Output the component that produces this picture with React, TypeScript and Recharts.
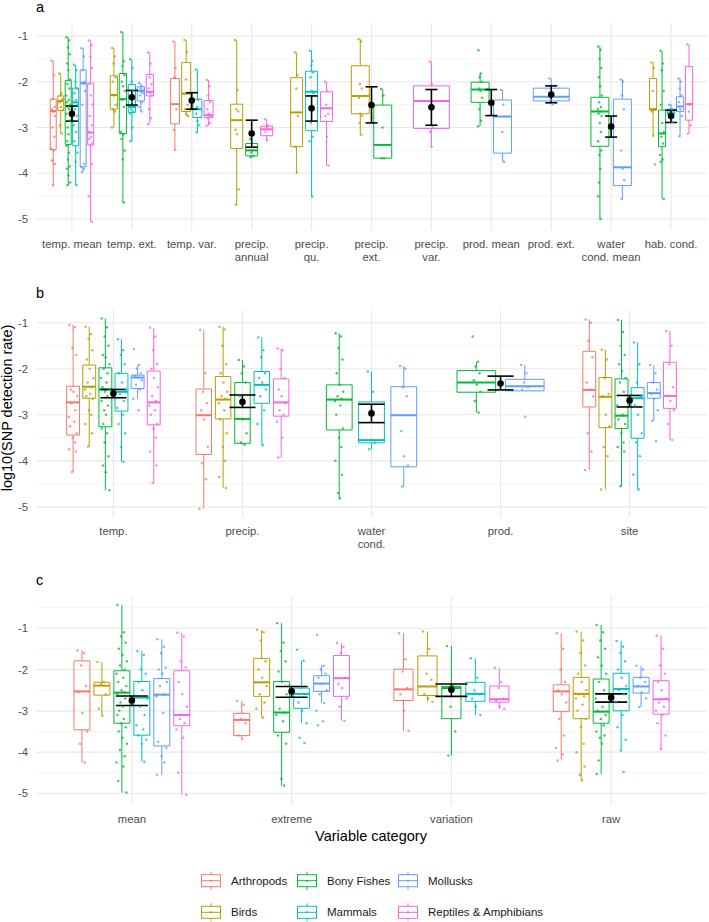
import React from 'react';
import { ComposedChart, XAxis, YAxis, CartesianGrid, Scatter, ErrorBar, ReferenceArea, ReferenceLine } from 'recharts';

const SPECIES = ['Arthropods', 'Birds', 'Bony Fishes', 'Mammals', 'Mollusks', 'Reptiles & Amphibians'];
const COLORS = ['#F8766D', '#B79F00', '#00BA38', '#00BFC4', '#619CFF', '#F564E3'];
const FONT = '"Liberation Sans", Arial, Helvetica, sans-serif';

// ---- panel a: single environmental variables ----
const catsA = ['temp. mean', 'temp. ext.', 'temp. var.', 'precip.\nannual', 'precip.\nqu.', 'precip.\next.', 'precip.\nvar.', 'prod. mean', 'prod. ext.', 'water\ncond. mean', 'hab. cond.'];
// [category, species, lower whisker, q1, median, q3, upper whisker]
const boxesA = [
  [0, 0, -4.26, -3.48, -2.64, -2.38, -1.54],
  [0, 1, -3.13, -2.63, -2.42, -2.31, -1.82],
  [0, 2, -4.26, -3.37, -2.53, -1.97, -1.03],
  [0, 3, -4.26, -3.40, -2.45, -2.14, -1.63],
  [0, 4, -3.97, -3.86, -2.03, -1.74, -1.27],
  [0, 5, -5.06, -3.38, -3.11, -2.03, -1.10],
  [1, 1, -3.00, -2.60, -2.29, -1.87, -1.26],
  [1, 2, -4.64, -3.13, -2.38, -1.82, -0.91],
  [1, 3, -3.30, -2.67, -2.55, -2.06, -1.51],
  [1, 4, -2.65, -2.42, -2.20, -2.11, -2.03],
  [1, 5, -2.93, -2.31, -2.22, -1.84, -1.36],
  [2, 0, -3.49, -2.92, -2.49, -1.93, -1.12],
  [2, 1, -2.75, -2.65, -2.26, -1.58, -1.09],
  [2, 3, -3.11, -2.78, -2.60, -2.38, -1.73],
  [2, 5, -2.96, -2.78, -2.73, -2.41, -1.96],
  [3, 1, -4.69, -3.46, -2.84, -2.49, -1.09],
  [3, 2, -3.65, -3.62, -3.50, -3.35, -3.25],
  [3, 5, -3.28, -3.18, -3.04, -2.97, -2.82],
  [4, 1, -3.99, -3.42, -2.67, -1.91, -1.36],
  [4, 3, -4.51, -3.07, -2.22, -1.77, -1.32],
  [4, 5, -3.83, -2.87, -2.58, -2.22, -2.00],
  [5, 1, -3.16, -2.70, -2.31, -1.65, -1.07],
  [5, 2, -3.67, -3.67, -3.38, -2.51, -2.16],
  [6, 5, -3.42, -3.02, -2.42, -2.09, -1.56],
  [7, 2, -2.97, -2.45, -2.17, -2.01, -1.82],
  [7, 4, -3.75, -3.56, -2.76, -2.40, -2.18],
  [8, 4, -2.49, -2.42, -2.33, -2.14, -1.93],
  [9, 2, -5.00, -3.41, -2.65, -2.34, -1.23],
  [9, 4, -4.56, -4.27, -3.87, -2.38, -1.95],
  [10, 1, -3.18, -2.62, -2.60, -1.93, -1.58],
  [10, 2, -4.56, -3.42, -3.13, -2.62, -1.32],
  [10, 3, -2.88, -2.72, -2.67, -2.60, -2.50],
  [10, 4, -3.19, -2.65, -2.54, -2.33, -1.93],
  [10, 5, -3.13, -2.84, -2.49, -1.67, -1.18],
];
const pointsA = [
  [-1.54, -1.86, -2.38, -2.55, -2.6, -2.66, -2.75, -3.0, -3.2, -3.46, -3.5, -3.72, -3.8, -4.26],
  [-1.82, -2.25, -2.3, -2.38, -2.45, -2.55, -2.62, -2.95, -3.13],
  [-1.03, -1.1, -1.25, -1.4, -1.6, -1.75, -1.95, -2.05, -2.15, -2.3, -2.4, -2.45, -2.5, -2.55, -2.6, -2.7, -2.85, -3.0, -3.15, -3.3, -3.4, -3.55, -3.7, -3.85, -3.9, -4.05, -4.2, -4.26],
  [-1.63, -1.75, -2.0, -2.15, -2.25, -2.4, -2.5, -2.6, -2.75, -2.95, -3.1, -3.3, -3.55, -3.75, -4.26],
  [-1.27, -1.45, -1.75, -2.0, -2.03, -2.05, -2.2, -2.5, -3.8, -3.86, -3.9, -3.97],
  [-1.1, -1.2, -1.45, -1.7, -2.05, -2.3, -2.5, -2.75, -2.95, -3.1, -3.2, -3.25, -3.35, -3.4, -3.8, -4.5, -5.06],
  [-1.26, -1.45, -1.6, -1.9, -2.0, -2.3, -2.5, -2.6, -2.65, -3.0],
  [-0.91, -1.55, -1.65, -1.85, -2.0, -2.1, -2.2, -2.4, -2.55, -3.1, -3.15, -3.25, -3.5, -3.7, -4.64],
  [-1.51, -1.7, -2.0, -2.2, -2.35, -2.45, -2.55, -2.6, -2.65, -2.7, -3.0, -3.3],
  [-2.03, -2.1, -2.15, -2.18, -2.2, -2.22, -2.25, -2.3, -2.45, -2.55, -2.65],
  [-1.36, -1.6, -1.9, -2.05, -2.15, -2.25, -2.3, -2.6, -2.8, -2.93],
  [-1.12, -1.7, -1.9, -2.6, -3.05, -3.49],
  [-1.09, -1.35, -1.95, -2.5, -2.6, -2.7, -2.75],
  [-1.73, -2.4, -2.55, -2.6, -2.7, -2.85, -2.95, -3.11],
  [-1.96, -2.1, -2.3, -2.45, -2.6, -2.7, -2.75, -2.8, -2.9, -2.96],
  [-1.09, -2.18, -2.6, -2.65, -3.05, -3.15, -4.35, -4.69],
  [-3.25, -3.5, -3.55, -3.62, -3.65],
  [-2.82, -2.95, -3.0, -3.05, -3.1, -3.28],
  [-1.36, -1.85, -2.15, -2.75, -3.42, -3.99],
  [-1.32, -1.55, -1.65, -1.8, -1.9, -2.2, -2.25, -2.9, -3.2, -3.3, -4.51],
  [-2.0, -2.2, -2.5, -2.7, -2.75, -3.2, -3.83],
  [-1.07, -1.12, -2.05, -2.15, -2.35, -2.7, -2.75, -2.9, -3.16],
  [-2.16, -2.3, -3.0, -3.67, -3.67],
  [-1.56, -2.05, -2.55, -3.0, -3.1, -3.42],
  [-1.31, -1.82, -1.9, -2.0, -2.15, -2.2, -2.35, -2.6, -2.85, -2.97],
  [-2.18, -2.5, -3.1, -3.75],
  [-1.93, -2.3, -2.4, -2.49],
  [-1.23, -1.3, -1.5, -1.7, -1.9, -2.1, -2.3, -2.45, -2.55, -2.6, -2.65, -2.7, -2.75, -2.9, -3.1, -3.3, -3.5, -3.6, -3.9, -4.2, -4.5, -5.0],
  [-1.95, -2.0, -2.3, -2.6, -3.5, -3.9, -4.15, -4.56],
  [-1.58, -1.7, -2.2, -2.6, -2.65, -3.18, -3.81],
  [-1.32, -1.6, -1.75, -2.2, -2.5, -2.9, -3.1, -3.2, -3.35, -3.6, -3.7, -3.75, -4.56],
  [-2.5, -2.6, -2.7, -2.88],
  [-1.93, -2.0, -2.15, -2.3, -2.45, -2.6, -2.75, -3.19],
  [-1.18, -2.5, -2.65, -2.95, -3.13],
];
// [category, mean, lower, upper]
const meansA = [
  [0, -2.70, -2.86, -2.53], [1, -2.34, -2.51, -2.19], [2, -2.41, -2.60, -2.24], [3, -3.13, -3.43, -2.84],
  [4, -2.58, -2.86, -2.31], [5, -2.51, -2.90, -2.11], [6, -2.56, -2.95, -2.17], [7, -2.46, -2.74, -2.17],
  [8, -2.28, -2.46, -2.09], [9, -2.98, -3.21, -2.75], [10, -2.75, -2.89, -2.62],
];

// ---- panel b: variable groups ----
const catsB = ['temp.', 'precip.', 'water\ncond.', 'prod.', 'site'];
const boxesB = [
  [0, 0, -4.24, -3.44, -2.73, -2.38, -1.05],
  [0, 1, -3.69, -2.64, -2.39, -1.92, -1.09],
  [0, 2, -4.64, -3.26, -2.45, -1.98, -0.91],
  [0, 3, -4.02, -2.92, -2.50, -2.10, -1.36],
  [0, 4, -2.65, -2.43, -2.19, -2.14, -1.92],
  [0, 5, -4.48, -3.22, -2.73, -2.05, -1.11],
  [1, 0, -5.04, -3.86, -3.01, -2.44, -1.16],
  [1, 1, -4.59, -3.09, -2.67, -2.17, -1.09],
  [1, 2, -3.65, -3.62, -3.09, -2.30, -1.81],
  [1, 3, -3.66, -2.75, -2.35, -2.06, -1.32],
  [1, 5, -3.93, -3.03, -2.73, -2.22, -1.56],
  [2, 2, -4.82, -3.33, -2.67, -2.35, -1.23],
  [2, 3, -3.75, -3.61, -3.55, -2.72, -2.06],
  [2, 4, -4.56, -4.13, -3.01, -2.39, -1.94],
  [3, 2, -2.95, -2.51, -2.30, -2.04, -1.85],
  [3, 4, -2.48, -2.48, -2.38, -2.23, -1.92],
  [4, 0, -4.20, -2.83, -2.46, -1.62, -0.93],
  [4, 1, -4.62, -3.28, -2.61, -2.19, -1.59],
  [4, 2, -4.55, -3.30, -3.02, -2.22, -0.94],
  [4, 3, -4.62, -3.51, -2.64, -2.41, -1.43],
  [4, 4, -3.13, -2.64, -2.53, -2.30, -1.92],
  [4, 5, -3.55, -2.86, -2.59, -1.86, -1.18],
];
const pointsB = [
  [-1.05, -1.1, -1.55, -1.7, -2.45, -2.5, -2.6, -2.75, -2.9, -3.05, -3.15, -3.25, -3.4, -3.5, -3.6, -3.75, -3.8, -4.24],
  [-1.09, -1.25, -1.35, -1.6, -1.8, -2.0, -2.2, -2.3, -2.4, -2.45, -2.55, -2.6, -2.65, -2.9, -3.0, -3.2, -3.4, -3.69],
  [-0.91, -1.1, -1.3, -1.5, -1.7, -1.75, -1.9, -2.0, -2.1, -2.2, -2.3, -2.4, -2.45, -2.5, -2.6, -2.7, -2.8, -2.9, -3.0, -3.2, -3.3, -3.4, -3.6, -3.9, -4.1, -4.25, -4.64],
  [-1.36, -1.6, -1.7, -1.9, -2.1, -2.3, -2.45, -2.55, -2.7, -2.85, -3.0, -3.2, -3.4, -3.7, -4.02],
  [-1.57, -1.92, -2.0, -2.1, -2.15, -2.2, -2.25, -2.35, -2.45, -2.65, -2.9],
  [-1.11, -1.3, -1.6, -1.9, -2.0, -2.2, -2.4, -2.6, -2.7, -2.8, -2.9, -3.0, -3.2, -3.3, -3.5, -3.8, -4.1, -4.48],
  [-1.16, -2.1, -2.5, -2.75, -2.9, -3.1, -3.7, -4.05, -4.4, -5.04],
  [-1.09, -1.15, -1.5, -1.9, -2.1, -2.3, -2.5, -2.6, -2.65, -2.75, -2.9, -3.1, -3.4, -3.7, -4.0, -4.35, -4.59],
  [-1.81, -1.95, -2.1, -2.3, -2.6, -3.1, -3.4, -3.6, -3.65],
  [-1.32, -1.6, -1.75, -2.1, -2.2, -2.3, -2.45, -2.6, -2.9, -3.2, -3.66],
  [-1.56, -1.6, -2.0, -2.2, -2.45, -2.6, -2.75, -2.9, -3.0, -3.15, -3.5, -3.93],
  [-1.23, -1.3, -1.55, -1.8, -2.1, -2.35, -2.5, -2.6, -2.65, -2.7, -2.8, -3.0, -3.3, -3.5, -3.7, -4.0, -4.3, -4.7, -4.82],
  [-2.06, -2.5, -3.55, -3.6, -3.75],
  [-1.94, -2.0, -2.4, -2.6, -3.35, -3.9, -4.1, -4.56],
  [-1.3, -1.85, -1.95, -2.1, -2.25, -2.35, -2.5, -2.7, -2.95],
  [-1.92, -2.1, -2.3, -2.4, -2.45, -3.04],
  [-0.93, -1.0, -1.4, -1.75, -2.3, -2.45, -2.6, -3.4, -3.8, -4.2],
  [-1.59, -1.8, -2.2, -2.55, -2.6, -3.0, -3.25, -3.7, -3.9, -4.62],
  [-0.94, -1.2, -1.5, -1.7, -1.9, -2.05, -2.2, -2.3, -2.5, -2.8, -3.0, -3.1, -3.2, -3.4, -3.6, -3.7, -3.8, -4.55],
  [-1.43, -1.9, -2.3, -2.6, -2.8, -3.0, -3.4, -3.6, -3.9, -4.3, -4.62],
  [-1.92, -2.1, -2.3, -2.45, -2.55, -2.65, -2.9, -3.13, -3.57],
  [-1.18, -1.5, -1.9, -2.4, -2.6, -2.7, -2.9, -3.2, -3.55],
];
const meansB = [
  [0, -2.54, -2.63, -2.45], [1, -2.72, -2.84, -2.57], [2, -2.97, -3.17, -2.77], [3, -2.32, -2.46, -2.16], [4, -2.69, -2.83, -2.58],
];

// ---- panel c: variable categories ----
const catsC = ['mean', 'extreme', 'variation', 'raw'];
const boxesC = [
  [0, 0, -4.25, -3.46, -2.53, -1.79, -1.54],
  [0, 1, -3.12, -2.62, -2.39, -2.31, -1.82],
  [0, 2, -4.98, -3.30, -2.56, -2.03, -0.44],
  [0, 3, -4.23, -3.59, -2.68, -2.29, -1.55],
  [0, 4, -4.55, -3.85, -2.61, -2.22, -1.27],
  [0, 5, -5.03, -3.36, -3.10, -2.03, -1.11],
  [1, 0, -3.68, -3.60, -3.22, -3.06, -2.76],
  [1, 1, -3.16, -2.65, -2.31, -1.73, -1.04],
  [1, 2, -4.81, -3.52, -3.04, -2.29, -0.88],
  [1, 3, -3.30, -2.94, -2.59, -2.45, -1.79],
  [1, 4, -2.81, -2.53, -2.34, -2.15, -1.91],
  [1, 5, -3.24, -2.65, -2.21, -1.66, -1.36],
  [2, 0, -3.48, -2.75, -2.48, -1.99, -1.12],
  [2, 1, -2.78, -2.63, -2.41, -1.67, -1.08],
  [2, 2, -4.08, -3.19, -2.45, -2.41, -1.43],
  [2, 3, -3.10, -2.77, -2.59, -2.31, -1.73],
  [2, 5, -2.95, -2.79, -2.72, -2.40, -1.96],
  [3, 0, -4.20, -3.02, -2.53, -2.37, -1.12],
  [3, 1, -4.68, -3.19, -2.59, -2.19, -1.08],
  [3, 2, -4.53, -3.30, -3.02, -2.23, -0.92],
  [3, 3, -3.96, -3.00, -2.47, -2.09, -1.31],
  [3, 4, -2.91, -2.57, -2.41, -2.19, -1.91],
  [3, 5, -3.93, -3.08, -2.72, -2.27, -1.18],
];
const pointsC = [
  [-1.54, -1.6, -1.9, -2.4, -2.55, -3.05, -3.5, -3.8, -4.25],
  [-1.82, -2.3, -2.35, -2.6, -2.95, -3.12],
  [-0.44, -1.1, -1.2, -1.35, -1.5, -1.65, -1.8, -1.9, -2.0, -2.1, -2.2, -2.3, -2.4, -2.5, -2.55, -2.6, -2.7, -2.8, -2.9, -3.0, -3.1, -3.2, -3.3, -3.4, -3.5, -3.65, -3.8, -3.95, -4.1, -4.25, -4.35, -4.7, -4.98],
  [-1.55, -1.65, -2.0, -2.1, -2.3, -2.5, -2.7, -2.9, -3.1, -3.35, -3.45, -3.6, -3.7, -3.8, -4.23],
  [-1.27, -1.45, -1.6, -1.95, -2.0, -2.1, -2.3, -2.4, -2.6, -2.65, -3.05, -3.75, -3.9, -4.1, -4.25, -4.55],
  [-1.11, -1.2, -1.8, -1.95, -2.3, -2.6, -2.9, -3.2, -3.3, -3.45, -3.65, -4.5, -5.03],
  [-2.76, -2.85, -3.2, -3.3, -3.6, -3.68],
  [-1.04, -1.1, -1.3, -1.8, -2.0, -2.2, -2.4, -2.6, -2.8, -2.95, -3.16],
  [-0.88, -1.35, -1.55, -1.8, -2.05, -2.3, -2.6, -2.95, -3.05, -3.1, -3.25, -3.6, -3.8, -4.65, -4.81],
  [-1.52, -1.79, -2.45, -2.6, -2.8, -3.0, -3.3, -3.65, -3.78],
  [-1.16, -1.91, -2.0, -2.1, -2.2, -2.35, -2.5, -2.6, -2.81, -3.0, -3.25, -3.35],
  [-1.36, -1.45, -1.6, -2.2, -2.35, -2.45, -2.7, -2.9, -3.24],
  [-1.12, -1.75, -2.05, -2.45, -2.6, -3.0, -3.48],
  [-1.08, -1.5, -2.1, -2.25, -2.6, -2.7, -2.78],
  [-1.43, -2.4, -2.9, -3.5, -4.08],
  [-1.73, -2.2, -2.5, -2.6, -2.7, -2.9, -3.1],
  [-1.96, -2.3, -2.45, -2.7, -2.75, -2.9, -2.95],
  [-1.12, -1.5, -2.0, -2.3, -2.5, -2.6, -2.8, -3.2, -3.6, -3.9, -4.05, -4.2],
  [-1.08, -1.3, -1.6, -1.9, -2.1, -2.3, -2.5, -2.6, -2.65, -2.7, -2.85, -3.0, -3.2, -3.4, -3.8, -4.0, -4.35, -4.55, -4.68],
  [-0.92, -1.1, -1.3, -1.5, -1.7, -1.9, -2.1, -2.3, -2.5, -2.7, -2.9, -3.0, -3.1, -3.2, -3.35, -3.5, -3.6, -3.65, -3.8, -4.2, -4.53],
  [-1.31, -1.45, -1.6, -1.8, -2.0, -2.2, -2.4, -2.5, -2.6, -2.8, -3.1, -3.4, -3.7, -3.96, -4.48],
  [-1.91, -2.0, -2.2, -2.3, -2.4, -2.55, -2.7, -2.91],
  [-1.18, -1.5, -1.9, -2.1, -2.3, -2.5, -2.7, -2.8, -2.9, -3.0, -3.1, -3.3, -3.6, -3.93],
];
const meansC = [
  [0, -2.75, -2.87, -2.64], [1, -2.53, -2.67, -2.41], [2, -2.49, -2.65, -2.35], [3, -2.68, -2.79, -2.59],
];

const MAJOR = [-5, -4, -3, -2, -1];
// horizontal jitter pattern (fraction of the jitter width)
const JIT = [-0.8, 0.35, -0.15, 0.7, -0.55, 0.1, 0.9, -0.35, 0.5, -0.95, 0.25, -0.65, 0.8, -0.05, 0.45, -0.85, 0.6, -0.25, 0.15, -0.45];

type Box = { cat: number; sp: number; lo: number; q1: number; med: number; q3: number; hi: number; cx: number; hw: number };

// dodge boxes within each category (0.75 of the category width)
function dodge(rows: number[][]): Box[] {
  return rows.map((r, i) => {
    const same = rows.map((q, j) => [q, j] as [number[], number]).filter(([q]) => q[0] === r[0]).sort((a, b) => a[0][1] - b[0][1]);
    const n = same.length;
    const k = same.findIndex(([, j]) => j === i);
    const slot = 0.75 / n;
    return { cat: r[0], sp: r[1], lo: r[2], q1: r[3], med: r[4], q3: r[5], hi: r[6], cx: r[0] - 0.375 + slot * (k + 0.5), hw: slot * 0.4 };
  });
}

const CatTick = (props: any) => {
  const { x, y, payload, labels } = props;
  const lines = String(labels[payload.value] ?? '').split('\n');
  return (
    <text x={x} y={y + 18} textAnchor="middle" fill="#4d4d4d" fontSize={11.3}>
      {lines.map((l, i) => (
        <tspan key={i} x={x} dy={i === 0 ? 0 : 13}>{l}</tspan>
      ))}
    </text>
  );
};

type PanelProps = {
  cats: string[]; rows: number[][]; pts: number[][]; means: number[][];
  domain: [number, number]; minor: number[]; capW: number; top: number; marginTop: number; plotH: number;
};

function Panel({ cats, rows, pts, means, domain, minor, capW, top, marginTop, plotH }: PanelProps) {
  const boxes = dodge(rows);
  const jw = 0.035;
  const series = SPECIES.map((_, s) =>
    boxes.flatMap((b, i) => (b.sp === s ? pts[i].map((v, j) => ({ x: b.cx + JIT[j % JIT.length] * jw, y: v })) : []))
  );
  const meanData = means.map(([c, m, lo, hi]) => ({ x: c, y: m, err: [m - lo, hi - m] }));
  const ticks = cats.map((_, i) => i);
  return (
    <div style={{ position: 'absolute', left: 0, top }}>
      <ComposedChart width={709} height={marginTop + plotH + 45} margin={{ top: marginTop, right: 2, bottom: 0, left: 0 }}>
        <CartesianGrid horizontalValues={minor} vertical={false} stroke="#ececec" strokeWidth={0.6} />
        <CartesianGrid horizontalValues={MAJOR} verticalValues={ticks} stroke="#e8e8e8" strokeWidth={1.1} />
        <XAxis
          type="number" dataKey="x" domain={[-0.6, cats.length - 0.4]} ticks={ticks} interval={0}
          allowDataOverflow axisLine={false} tickLine={false} tickSize={0} tickMargin={0} height={45}
          tick={(p: any) => <CatTick {...p} labels={cats} />}
        />
        <YAxis
          type="number" dataKey="y" domain={domain} ticks={MAJOR} allowDataOverflow width={36}
          axisLine={false} tickLine={false} tick={{ fill: '#4d4d4d', fontSize: 11.3 }}
        />
        {boxes.flatMap((b, i) => {
          const c = COLORS[b.sp];
          return [
            <ReferenceLine key={`wu${i}`} segment={[{ x: b.cx, y: b.q3 }, { x: b.cx, y: b.hi }]} stroke={c} strokeWidth={1} />,
            <ReferenceLine key={`wl${i}`} segment={[{ x: b.cx, y: b.lo }, { x: b.cx, y: b.q1 }]} stroke={c} strokeWidth={1} />,
            <ReferenceArea key={`bx${i}`} x1={b.cx - b.hw} x2={b.cx + b.hw} y1={b.q1} y2={b.q3} fill="none" fillOpacity={0} stroke={c} strokeWidth={1} />,
            <ReferenceLine key={`md${i}`} segment={[{ x: b.cx - b.hw, y: b.med }, { x: b.cx + b.hw, y: b.med }]} stroke={c} strokeWidth={2} />,
          ];
        })}
        {series.map((d, s) => (
          <Scatter
            key={SPECIES[s]} name={SPECIES[s]} data={d} isAnimationActive={false}
            shape={(p: any) => <circle cx={p.cx} cy={p.cy} r={1.25} fill={COLORS[s]} fillOpacity={0.75} />}
          />
        ))}
        <Scatter
          data={meanData} isAnimationActive={false}
          shape={(p: any) => <circle cx={p.cx} cy={p.cy} r={3.3} fill="#000" />}
        >
          <ErrorBar dataKey="err" direction="y" width={capW} stroke="#000" strokeWidth={1.6} />
        </Scatter>
      </ComposedChart>
    </div>
  );
}

const LegendKey = ({ x, y, color, label }: { x: number; y: number; color: string; label: string }) => (
  <g>
    <line x1={x} x2={x} y1={y - 9} y2={y + 9} stroke={color} strokeWidth={1} />
    <rect x={x - 9.5} y={y - 6} width={19} height={12} fill="#fff" stroke={color} strokeWidth={1} />
    <line x1={x - 9.5} x2={x + 9.5} y1={y} y2={y} stroke={color} strokeWidth={1} />
    <circle cx={x} cy={y} r={1} fill={color} />
    <text x={x + 20} y={y + 4} fontSize={11.5} fill="#1a1a1a">{label}</text>
  </g>
);

export default function App() {
  const legendPos = [[211, 880.7], [211, 912.3], [307, 880.7], [307, 912.3], [408, 880.7], [408, 912.3]];
  return (
    <div style={{ position: 'absolute', left: 0, top: 0, width: 709, height: 922, background: '#fff', fontFamily: FONT, overflow: 'hidden' }}>
      <Panel cats={catsA} rows={boxesA} pts={pointsA} means={meansA} domain={[-5.24, -0.716]} minor={[-4.5, -3.5, -2.5, -1.5]} capW={6} top={0} marginTop={23} plotH={207} />
      <Panel cats={catsB} rows={boxesB} pts={pointsB} means={meansB} domain={[-5.22, -0.724]} minor={[-4.5, -3.5, -2.5, -1.5]} capW={13} top={290} marginTop={20} plotH={207} />
      <Panel cats={catsC} rows={boxesC} pts={pointsC} means={meansC} domain={[-5.28, -0.22]} minor={[-4.5, -3.5, -2.5, -1.5, -0.5]} capW={16} top={575} marginTop={21} plotH={209} />
      <svg width={709} height={922} style={{ position: 'absolute', left: 0, top: 0, pointerEvents: 'none' }}>
        <text x={36} y={12} fontSize={14.5} fill="#000">a</text>
        <text x={36} y={298} fontSize={14.5} fill="#000">b</text>
        <text x={36} y={585} fontSize={14.5} fill="#000">c</text>
        <text transform="translate(12,408) rotate(-90)" textAnchor="middle" fontSize={14.5} fill="#000">log10(SNP detection rate)</text>
        <text x={371} y={841} textAnchor="middle" fontSize={14.5} fill="#000">Variable category</text>
        {SPECIES.map((s, i) => (
          <LegendKey key={s} x={legendPos[i][0]} y={legendPos[i][1]} color={COLORS[i]} label={s} />
        ))}
      </svg>
    </div>
  );
}
